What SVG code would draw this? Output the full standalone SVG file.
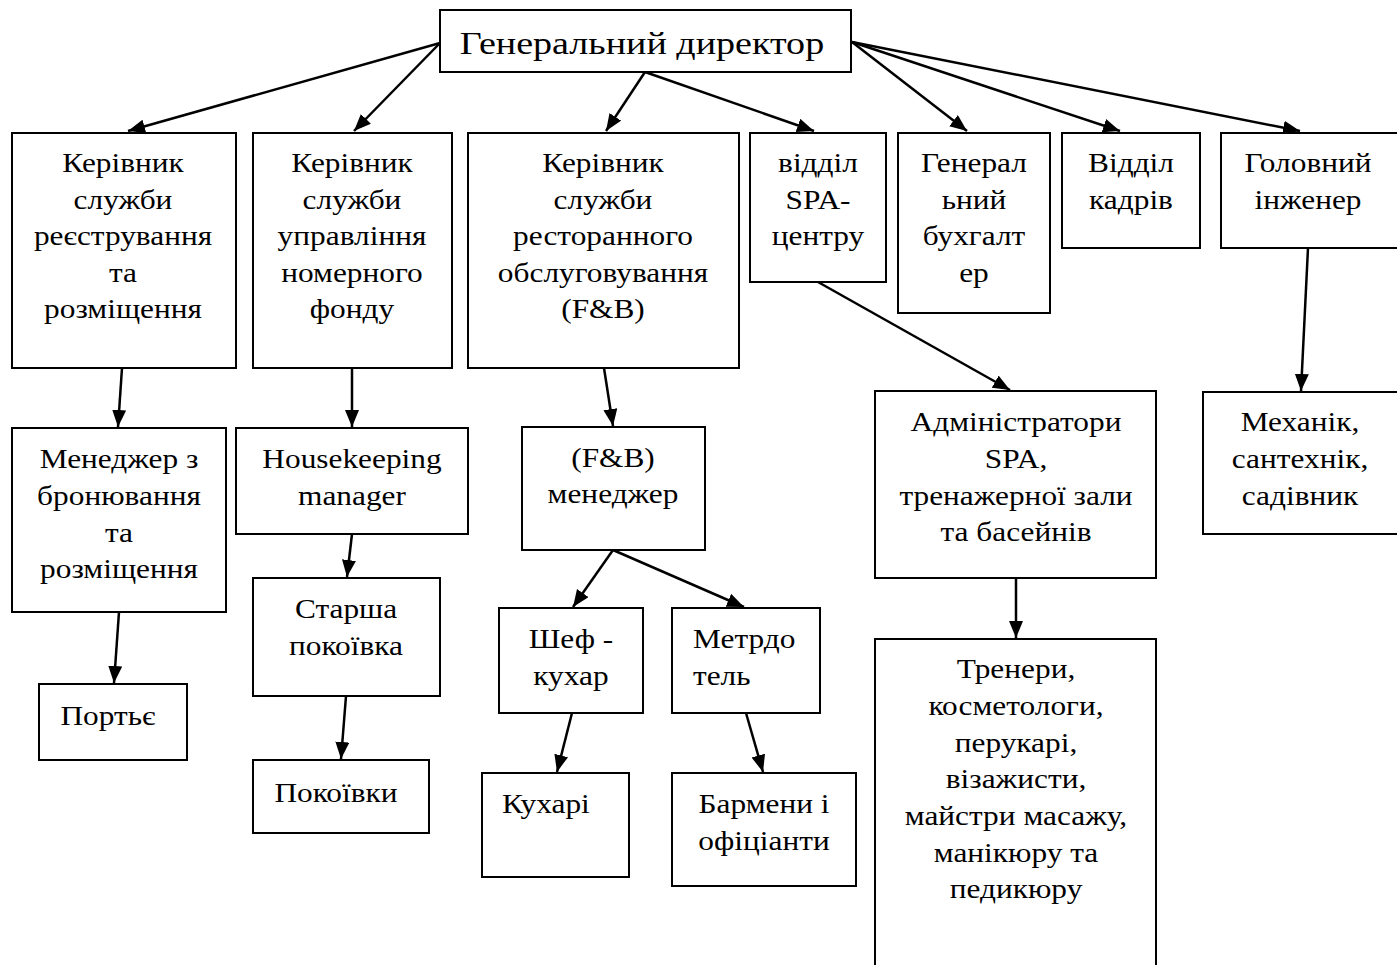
<svg xmlns="http://www.w3.org/2000/svg" width="1397" height="965" viewBox="0 0 1397 965">
<style>
.box{fill:#fff;stroke:#000;stroke-width:2}
.t{font-family:"Liberation Serif","Times New Roman",serif;font-size:28px;fill:#000;text-anchor:middle}
.ts{text-anchor:start}
.c{stroke:#000;stroke-width:2.5;fill:none;marker-end:url(#ah)}
</style>
<defs>
<marker id="ah" markerUnits="userSpaceOnUse" markerWidth="20" markerHeight="16" refX="17" refY="7" orient="auto">
<path d="M0,0 L17,7 L0,14 z" fill="#000"/>
</marker>
</defs>
<rect width="1397" height="965" fill="#fff"/>
<g id="connectors">
<line class="c" x1="440" y1="43" x2="128" y2="131"/>
<line class="c" x1="440" y1="43" x2="354" y2="131"/>
<line class="c" x1="645" y1="72" x2="606" y2="131"/>
<line class="c" x1="645" y1="72" x2="814" y2="131"/>
<line class="c" x1="852" y1="42" x2="967" y2="131"/>
<line class="c" x1="852" y1="42" x2="1120" y2="131"/>
<line class="c" x1="852" y1="42" x2="1300" y2="131"/>
<line class="c" x1="122" y1="368" x2="118" y2="427"/>
<line class="c" x1="352" y1="368" x2="352" y2="427"/>
<line class="c" x1="604" y1="368" x2="613" y2="426"/>
<line class="c" x1="818" y1="282" x2="1010" y2="390"/>
<line class="c" x1="1308" y1="248" x2="1301" y2="391"/>
<line class="c" x1="119" y1="612" x2="114" y2="683"/>
<line class="c" x1="352" y1="534" x2="347" y2="577"/>
<line class="c" x1="346" y1="696" x2="341" y2="759"/>
<line class="c" x1="613" y1="550" x2="573" y2="607"/>
<line class="c" x1="613" y1="550" x2="744" y2="607"/>
<line class="c" x1="572" y1="713" x2="557" y2="772"/>
<line class="c" x1="746" y1="713" x2="763" y2="772"/>
<line class="c" x1="1016" y1="578" x2="1016" y2="638"/>
</g>
<g id="n-director">
<rect class="box" x="440" y="10" width="411" height="62"/>
<text class="t" style="font-size:32px" transform="translate(642,0) scale(1.19 1)"><tspan x="0" y="54">Генеральний директор</tspan></text>
</g>
<g id="n-reg">
<rect class="box" x="12" y="133" width="224" height="235"/>
<text class="t" transform="translate(123,0) scale(1.12 1)"><tspan x="0" y="172">Керівник</tspan><tspan x="0" y="209">служби</tspan><tspan x="0" y="245">реєстрування</tspan><tspan x="0" y="282">та</tspan><tspan x="0" y="318">розміщення</tspan></text>
</g>
<g id="n-rooms">
<rect class="box" x="253" y="133" width="199" height="235"/>
<text class="t" transform="translate(352,0) scale(1.12 1)"><tspan x="0" y="172">Керівник</tspan><tspan x="0" y="209">служби</tspan><tspan x="0" y="245">управління</tspan><tspan x="0" y="282">номерного</tspan><tspan x="0" y="318">фонду</tspan></text>
</g>
<g id="n-fb">
<rect class="box" x="468" y="133" width="271" height="235"/>
<text class="t" transform="translate(603,0) scale(1.12 1)"><tspan x="0" y="172">Керівник</tspan><tspan x="0" y="209">служби</tspan><tspan x="0" y="245">ресторанного</tspan><tspan x="0" y="282">обслуговування</tspan><tspan x="0" y="318">(F&amp;B)</tspan></text>
</g>
<g id="n-spa">
<rect class="box" x="750" y="133" width="136" height="149"/>
<text class="t" transform="translate(818,0) scale(1.12 1)"><tspan x="0" y="172">відділ</tspan><tspan x="0" y="209">SPA-</tspan><tspan x="0" y="245">центру</tspan></text>
</g>
<g id="n-acc">
<rect class="box" x="898" y="133" width="152" height="180"/>
<text class="t" transform="translate(974,0) scale(1.12 1)"><tspan x="0" y="172">Генерал</tspan><tspan x="0" y="209">ьний</tspan><tspan x="0" y="245">бухгалт</tspan><tspan x="0" y="282">ер</tspan></text>
</g>
<g id="n-hr">
<rect class="box" x="1062" y="133" width="138" height="115"/>
<text class="t" transform="translate(1131,0) scale(1.12 1)"><tspan x="0" y="172">Відділ</tspan><tspan x="0" y="209">кадрів</tspan></text>
</g>
<g id="n-eng">
<rect class="box" x="1221" y="133" width="180" height="115"/>
<text class="t" transform="translate(1308,0) scale(1.12 1)"><tspan x="0" y="172">Головний</tspan><tspan x="0" y="209">інженер</tspan></text>
</g>
<g id="n-booking">
<rect class="box" x="12" y="428" width="214" height="184"/>
<text class="t" transform="translate(119,0) scale(1.12 1)"><tspan x="0" y="468">Менеджер з</tspan><tspan x="0" y="505">бронювання</tspan><tspan x="0" y="542">та</tspan><tspan x="0" y="578">розміщення</tspan></text>
</g>
<g id="n-hk">
<rect class="box" x="236" y="428" width="232" height="106"/>
<text class="t" transform="translate(352,0) scale(1.12 1)"><tspan x="0" y="468">Housekeeping</tspan><tspan x="0" y="505">manager</tspan></text>
</g>
<g id="n-porter">
<rect class="box" x="39" y="684" width="148" height="76"/>
<text class="t" transform="translate(108,0) scale(1.12 1)"><tspan x="0" y="725">Портьє</tspan></text>
</g>
<g id="n-senior">
<rect class="box" x="253" y="578" width="187" height="118"/>
<text class="t" transform="translate(346,0) scale(1.12 1)"><tspan x="0" y="618">Старша</tspan><tspan x="0" y="655">покоївка</tspan></text>
</g>
<g id="n-maids">
<rect class="box" x="253" y="760" width="176" height="73"/>
<text class="t" transform="translate(336,0) scale(1.12 1)"><tspan x="0" y="802">Покоївки</tspan></text>
</g>
<g id="n-fbm">
<rect class="box" x="522" y="427" width="183" height="123"/>
<text class="t" transform="translate(613,0) scale(1.12 1)"><tspan x="0" y="467">(F&amp;B)</tspan><tspan x="0" y="503">менеджер</tspan></text>
</g>
<g id="n-chef">
<rect class="box" x="499" y="608" width="144" height="105"/>
<text class="t" transform="translate(571,0) scale(1.12 1)"><tspan x="0" y="648">Шеф -</tspan><tspan x="0" y="685">кухар</tspan></text>
</g>
<g id="n-maitre">
<rect class="box" x="672" y="608" width="148" height="105"/>
<text class="t ts" transform="translate(693,0) scale(1.12 1)"><tspan x="0" y="648">Метрдо</tspan><tspan x="0" y="685">тель</tspan></text>
</g>
<g id="n-cooks">
<rect class="box" x="482" y="773" width="147" height="104"/>
<text class="t ts" transform="translate(502,0) scale(1.12 1)"><tspan x="0" y="813">Кухарі</tspan></text>
</g>
<g id="n-bar">
<rect class="box" x="672" y="773" width="184" height="113"/>
<text class="t" transform="translate(764,0) scale(1.12 1)"><tspan x="0" y="813">Бармени і</tspan><tspan x="0" y="850">офіціанти</tspan></text>
</g>
<g id="n-spaadm">
<rect class="box" x="875" y="391" width="281" height="187"/>
<text class="t" transform="translate(1016,0) scale(1.12 1)"><tspan x="0" y="431">Адміністратори</tspan><tspan x="0" y="468">SPA,</tspan><tspan x="0" y="505">тренажерної зали</tspan><tspan x="0" y="541">та басейнів</tspan></text>
</g>
<g id="n-mech">
<rect class="box" x="1203" y="392" width="200" height="142"/>
<text class="t" transform="translate(1300,0) scale(1.12 1)"><tspan x="0" y="431">Механік,</tspan><tspan x="0" y="468">сантехнік,</tspan><tspan x="0" y="505">садівник</tspan></text>
</g>
<g id="n-trainers">
<rect class="box" x="875" y="639" width="281" height="340"/>
<text class="t" transform="translate(1016,0) scale(1.12 1)"><tspan x="0" y="678">Тренери,</tspan><tspan x="0" y="715">косметологи,</tspan><tspan x="0" y="752">перукарі,</tspan><tspan x="0" y="788">візажисти,</tspan><tspan x="0" y="825">майстри масажу,</tspan><tspan x="0" y="862">манікюру та</tspan><tspan x="0" y="898">педикюру</tspan></text>
</g>
</svg>
